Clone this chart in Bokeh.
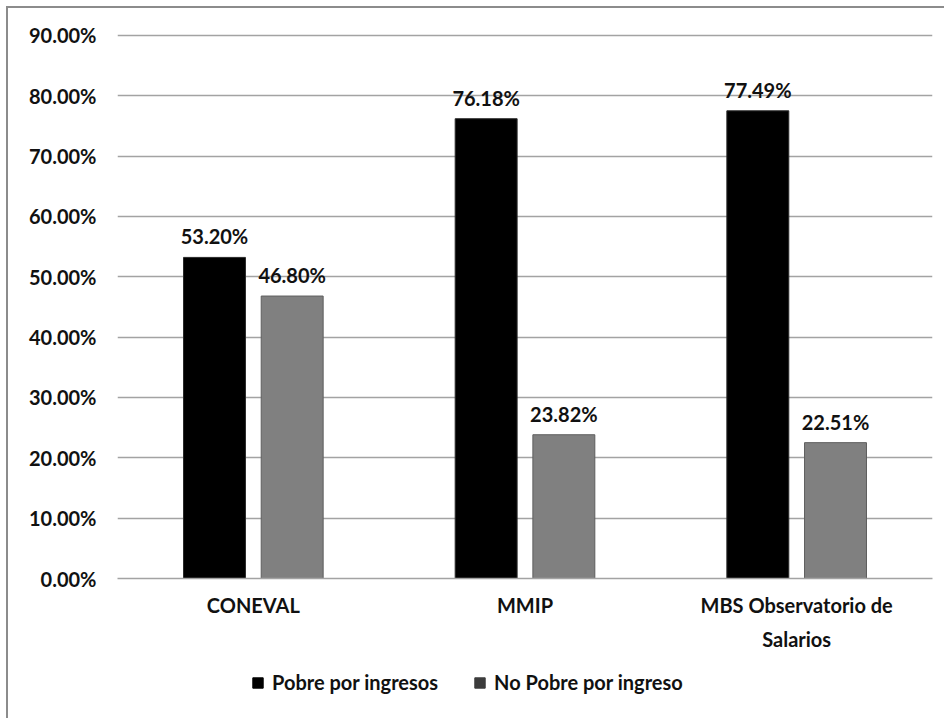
from bokeh.plotting import figure
from bokeh.layouts import column
from bokeh.models import (FactorRange, Range1d, FixedTicker, PrintfTickFormatter,
                          Legend, LegendItem, ColumnDataSource)
from bokeh.transform import dodge
from bokeh.core.properties import value
from bokeh.embed import file_html
from bokeh.resources import INLINE

# ---- data ----
categories = ["CONEVAL", "MMIP", "MBS Observatorio de\nSalarios"]
series_names = ["Pobre por ingresos", "No Pobre por ingreso"]
pobre = [53.20, 76.18, 77.49]
no_pobre = [46.80, 23.82, 22.51]
y_ticks = [0, 10, 20, 30, 40, 50, 60, 70, 80, 90]

FONT = "Lato"
TXT = "#111111"
GRID = "#a3a3a3"

src = ColumnDataSource(dict(
    cat=categories,
    pobre=pobre,
    no_pobre=no_pobre,
    pobre_lbl=[f"{v:.2f}%" for v in pobre],
    no_pobre_lbl=[f"{v:.2f}%" for v in no_pobre],
))

p = figure(x_range=FactorRange(factors=categories), y_range=Range1d(0, 90.3),
           width=936, height=660, output_backend="svg", toolbar_location=None,
           min_border_left=109, min_border_right=12, min_border_top=25,
           min_border_bottom=90)
p.outline_line_color = None
p.background_fill_color = "white"
p.border_fill_color = "white"

off = 0.143
bw = 0.228
p.vbar(x=dodge("cat", -off, range=p.x_range), top="pobre", width=bw, source=src,
       fill_color="black", line_color="#2a2a2a", line_width=1)
p.vbar(x=dodge("cat", off, range=p.x_range), top="no_pobre", width=bw, source=src,
       fill_color="#808080", line_color="#5e5e5e", line_width=1)

p.text(x=dodge("cat", -off, range=p.x_range), y="pobre", text="pobre_lbl", source=src,
       text_align="center", text_baseline="bottom", y_offset=-9,
       text_font=value(FONT), text_font_style="bold", text_font_size="20px",
       text_color=TXT)
p.text(x=dodge("cat", off, range=p.x_range), y="no_pobre", text="no_pobre_lbl", source=src,
       text_align="center", text_baseline="bottom", y_offset=-9,
       text_font=value(FONT), text_font_style="bold", text_font_size="20px",
       text_color=TXT)

# axes
p.yaxis.ticker = FixedTicker(ticks=y_ticks)
p.yaxis.formatter = PrintfTickFormatter(format="%.2f%%")
p.yaxis.axis_line_color = None
p.yaxis.major_tick_line_color = None
p.yaxis.minor_tick_line_color = None
p.yaxis.major_tick_out = 0
p.yaxis.minor_tick_out = 0
p.yaxis.major_label_standoff = 21
p.yaxis.major_label_text_font = FONT
p.yaxis.major_label_text_font_size = "20px"
p.yaxis.major_label_text_font_style = "bold"
p.yaxis.major_label_text_color = TXT

p.xaxis.axis_line_color = GRID
p.xaxis.axis_line_width = 1.5
p.xaxis.major_tick_line_color = None
p.xaxis.minor_tick_line_color = None
p.xaxis.major_tick_out = 0
p.xaxis.minor_tick_out = 0
p.xaxis.major_label_standoff = 14
p.xaxis.major_label_text_font = FONT
p.xaxis.major_label_text_font_size = "20px"
p.xaxis.major_label_text_font_style = "bold"
p.xaxis.major_label_text_color = TXT
p.xaxis.major_label_text_line_height = 1.45

p.xgrid.grid_line_color = None
p.ygrid.grid_line_color = GRID
p.ygrid.grid_line_width = 1.5

# ---- legend strip (own small figure under the chart) ----
lg = figure(width=936, height=50, x_range=Range1d(0, 1), y_range=Range1d(0, 1),
            output_backend="svg", toolbar_location=None,
            min_border_left=0, min_border_right=0, min_border_top=0,
            min_border_bottom=0)
lg.axis.visible = False
lg.grid.grid_line_color = None
lg.outline_line_color = None
lg.background_fill_color = "white"
lg.border_fill_color = "white"

# hidden renderers that only provide the legend swatches
r1 = lg.vbar(x="pobre", top="pobre", width=1, source=src, visible=False,
             fill_color="black", line_color="black")
r2 = lg.vbar(x="no_pobre", top="no_pobre", width=1, source=src, visible=False,
             fill_color="#3c3c3c", line_color="#3c3c3c")
legend = Legend(items=[LegendItem(label=series_names[0], renderers=[r1]),
                       LegendItem(label=series_names[1], renderers=[r2])],
                orientation="horizontal", location=(134, 24),
                glyph_width=13, glyph_height=13, label_standoff=8, spacing=35,
                padding=0, margin=0, border_line_color=None,
                background_fill_alpha=0, inactive_fill_alpha=0,
                label_text_font=FONT, label_text_font_size="20px",
                label_text_font_style="bold", label_text_color=TXT)
lg.add_layout(legend)

layout = column(p, lg, spacing=0)
layout.styles = {"border-top": "2px solid #8c8c8c", "border-left": "2px solid #8c8c8c",
                 "border-right": "none", "border-bottom": "none",
                 "margin-top": "6px", "margin-left": "6px"}

open("out.html", "w").write(file_html(layout, INLINE))
